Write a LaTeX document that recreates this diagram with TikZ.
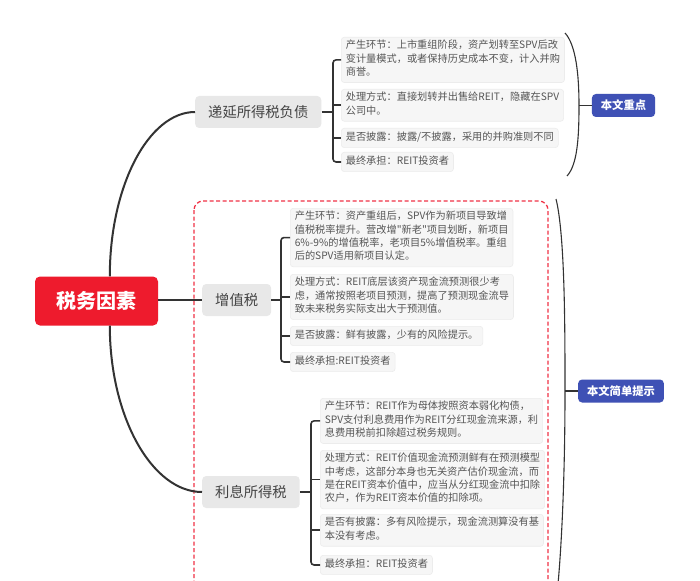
\documentclass[tikz,border=0pt]{standalone}
\usepackage{fontspec}
\newfontfamily\cjk{Noto Sans CJK SC}
\definecolor{cred}{RGB}{238,27,45}
\definecolor{cblue}{RGB}{63,81,181}
\definecolor{ctopic}{RGB}{232,232,232}
\definecolor{ctopictext}{RGB}{68,68,68}
\definecolor{citem}{RGB}{246,246,246}
\definecolor{citemb}{RGB}{236,236,236}
\definecolor{ctext}{RGB}{85,85,85}
\definecolor{cline}{RGB}{51,51,51}
\definecolor{cdash}{RGB}{240,50,70}
\begin{document}
\begin{tikzpicture}[x=1pt,y=-1pt,
  item/.style={anchor=north west, align=left, font=\cjk\fontsize{10.2}{13.3}\selectfont,
    text=ctext, fill=citem, draw=citemb, line width=0.6, rounded corners=3,
    inner xsep=4.5, inner ysep=3, execute at begin node=\strut, execute at end node=\strut},
  topic/.style={anchor=west, font=\cjk\fontsize{14.3}{16}\selectfont, text=ctopictext,
    fill=ctopic, rounded corners=4, inner xsep=13, inner ysep=0, minimum height=32},
  central/.style={font=\cjk\bfseries\fontsize{20}{22}\selectfont, text=white, fill=cred,
    rounded corners=5, minimum width=123, minimum height=49, inner sep=0},
  tag/.style={font=\cjk\bfseries\fontsize{11.3}{13}\selectfont, text=white, fill=cblue,
    rounded corners=4, minimum height=23, inner xsep=9, inner ysep=0},
  mainline/.style={draw=cline, line width=2},
  brk/.style={draw=cline, line width=1.6, rounded corners=3},
  paren/.style={draw=cline, line width=1.1}
]
\useasboundingbox (0,0) rectangle (700,580);
\fill[white] (0,0) rectangle (700,580);

% dashed frame
\draw[cdash, line width=1.3, dash pattern=on 4pt off 2.5pt, rounded corners=9] (194,201) rectangle (548,592);

% central and topics
\node[central] (c) at (96.5,301) {税务因素};
\node[topic] (t1) at (195,112) {递延所得税负债};
\node[topic] (t2) at (202,300) {增值税};
\node[topic] (t3) at (202,492) {利息所得税};

\draw[mainline] ([xshift=75]c.north west) .. controls +(0,-91) and +(-46,0) .. (t1.west);
\draw[mainline] ([xshift=75]c.south west) .. controls +(0,91) and +(-50,0) .. (t3.west);
\draw[mainline] (t2.west -| c.east) -- (t2.west);

% group 1
\node[item] (i11) at (341,37) {产生环节：上市重组阶段，资产划转至SPV后改\\变计量模式，或者保持历史成本不变，计入并购\\商誉。};
\node[item] (i12) at (341,89) {处理方式：直接划转并出售给REIT，隐藏在SPV\\公司中。};
\node[item] (i13) at (341,128) {是否披露：披露/不披露，采用的并购准则不同};
\node[item] (i14) at (341,152) {最终承担：REIT投资者};
\coordinate (g1) at (333,0);
\draw[brk] (i11.west) -- (i11.west -| g1) -- (i14.west -| g1) -- (i14.west);
\draw[brk] (i12.west -| g1) -- (i12.west);
\draw[brk] (i13.west -| g1) -- (i13.west);
\draw[brk] (t1.east) -- (t1.east -| g1);

% group 2
\node[item] (i21) at (290,208) {产生环节：资产重组后，SPV作为新项目导致增\\值税税率提升。营改增"新老"项目划断，新项目\\6\%-9\%的增值税率，老项目5\%增值税率。重组\\后的SPV适用新项目认定。};
\node[item] (i22) at (290,274) {处理方式：REIT底层该资产现金流预测很少考\\虑，通常按照老项目预测，提高了预测现金流导\\致未来税务实际支出大于预测值。};
\node[item] (i23) at (290,326) {是否披露：鲜有披露，少有的风险提示。};
\node[item] (i24) at (290,352) {最终承担:REIT投资者};
\coordinate (g2) at (281,0);
\draw[brk] (i21.west) -- (i21.west -| g2) -- (i24.west -| g2) -- (i24.west);
\draw[brk] (i22.west -| g2) -- (i22.west);
\draw[brk] (i23.west -| g2) -- (i23.west);
\draw[brk] (t2.east) -- (t2.east -| g2);

% group 3
\node[item] (i31) at (320,398) {产生环节：REIT作为母体按照资本弱化构债，\\SPV支付利息费用作为REIT分红现金流来源，利\\息费用税前扣除超过税务规则。};
\node[item] (i32) at (320,450) {处理方式：REIT价值现金流预测鲜有在预测模型\\中考虑，这部分本身也无关资产估价现金流，而\\是在REIT资本价值中，应当从分红现金流中扣除\\农户，作为REIT资本价值的扣除项。};
\node[item] (i33) at (320,514) {是否有披露：多有风险提示，现金流测算没有基\\本没有考虑。};
\node[item] (i34) at (320,555) {最终承担：REIT投资者};
\coordinate (g3) at (311,0);
\draw[brk] (i31.west) -- (i31.west -| g3) -- (i34.west -| g3) -- (i34.west);
\draw[brk] (i32.west -| g3) -- (i32.west);
\draw[brk] (i33.west -| g3) -- (i33.west);
\draw[brk] (t3.east) -- (t3.east -| g3);

% summary tags
\node[tag] (l1) at (623.5,105.5) {本文重点};
\node[tag] (l2) at (621,391) {本文简单提示};
\coordinate (b1) at (579,105.5);
\coordinate (b2) at (565,391);
\draw[paren] (565,33) .. controls (576,45) and (579,75) .. (b1) .. controls (579,140) and (577,165) .. (567,176);
\draw[paren] (b1) -- (l1.west);
\draw[paren] (556,199) .. controls (565,235) and (565,330) .. (b2) .. controls (565,470) and (562,540) .. (558,584);
\draw[paren] (b2) -- (l2.west);
\end{tikzpicture}
\end{document}
